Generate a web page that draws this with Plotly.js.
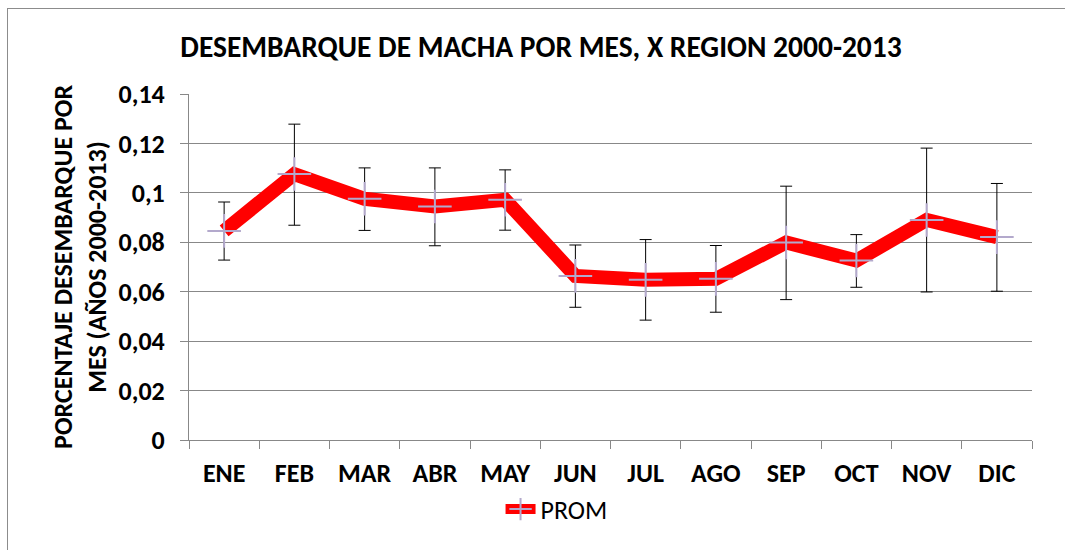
<!DOCTYPE html>
<html>
<head>
<meta charset="utf-8">
<script src="https://cdn.plot.ly/plotly-3.0.1.min.js"></script>
<style>
  html, body { margin: 0; padding: 0; background: #fff; }
  #wrap { position: relative; width: 1065px; height: 550px; overflow: hidden; }
  #frame { position: absolute; left: 7px; top: 8px; width: 1100px; height: 600px; border: 1px solid #8c8c8c; box-sizing: border-box; pointer-events: none; }
  #chart { position: absolute; left: 0; top: 0; width: 1065px; height: 550px; }
</style>
</head>
<body>
<div id="wrap">
  <div id="chart"></div>
  <div id="frame"></div>
</div>
<script>
const months = ['ENE','FEB','MAR','ABR','MAY','JUN','JUL','AGO','SEP','OCT','NOV','DIC'];
const prom   = [0.0846, 0.1076, 0.0976, 0.0945, 0.0972, 0.0664, 0.0648, 0.0652, 0.0799, 0.0726, 0.0890, 0.0821];
const errUp  = [0.0117, 0.0202, 0.0125, 0.0156, 0.0121, 0.0125, 0.0163, 0.0135, 0.0228, 0.0105, 0.0291, 0.0217];
const errDn  = [0.0118, 0.0207, 0.0128, 0.0159, 0.0123, 0.0127, 0.0163, 0.0135, 0.0231, 0.0108, 0.0291, 0.0219];
const yTicks = [0, 0.02, 0.04, 0.06, 0.08, 0.1, 0.12, 0.14];

const FONT = 'Carlito, Lato, "Open Sans", sans-serif';

const traces = [
  {
    x: months, y: prom, type: 'scatter', mode: 'markers',
    marker: {size: 1, opacity: 0},
    error_y: {type: 'data', symmetric: false, array: errUp, arrayminus: errDn,
              color: '#000', thickness: 1, width: 6},
    showlegend: false, hoverinfo: 'skip'
  },
  {
    x: months, y: prom, type: 'scatter', mode: 'lines+markers', name: 'PROM',
    line: {color: '#ff0000', width: 14},
    marker: {symbol: 'cross-thin', size: 24, color: '#b3a9cc', line: {color: '#b3a9cc', width: 2}}
  }
];

const layout = {
  width: 1065, height: 550,
  margin: {l: 189, r: 33, t: 94, b: 110},
  paper_bgcolor: 'rgba(0,0,0,0)', plot_bgcolor: 'rgba(0,0,0,0)',
  separators: ',.',
  font: {family: FONT, color: '#000'},
  title: {text: '<b>DESEMBARQUE DE MACHA POR MES, X REGION 2000-2013</b>',
          font: {family: FONT, size: 29.5, color: '#000'},
          x: 0.508, xanchor: 'center', y: 0.915, yanchor: 'middle'},
  xaxis: {
    type: 'category', tickson: 'boundaries', ticks: 'outside', ticklen: 8, tickcolor: '#888',
    showline: true, linecolor: '#888', linewidth: 1, showgrid: false,
    ticklabelstandoff: 10,
    tickfont: {family: FONT, size: 26, color: '#000', weight: 'bold'},
    range: [-0.5, 11.5]
  },
  yaxis: {
    range: [0, 0.14], tickvals: yTicks, ticks: 'outside', ticklen: 8, tickcolor: '#888',
    showline: true, linecolor: '#888', linewidth: 1,
    showgrid: true, gridcolor: '#888', gridwidth: 1, zeroline: false,
    ticklabelstandoff: 10,
    tickfont: {family: FONT, size: 26, color: '#000', weight: 'bold'}
  },
  annotations: [{
    text: '<b>PORCENTAJE DESEMBARQUE POR<br>MES (AÑOS 2000-2013)</b>',
    xref: 'paper', yref: 'paper', x: -0.1294, y: 0.5, xanchor: 'center', yanchor: 'middle',
    textangle: -90, showarrow: false,
    font: {family: FONT, size: 26, color: '#000'}
  }],
  legend: {orientation: 'h', x: 0.436, xanchor: 'center', y: -0.2, yanchor: 'middle',
           font: {family: FONT, size: 26, color: '#000'}},
  showlegend: true
};

Plotly.newPlot('chart', traces, layout, {displayModeBar: false, staticPlot: true});
</script>
</body>
</html>
